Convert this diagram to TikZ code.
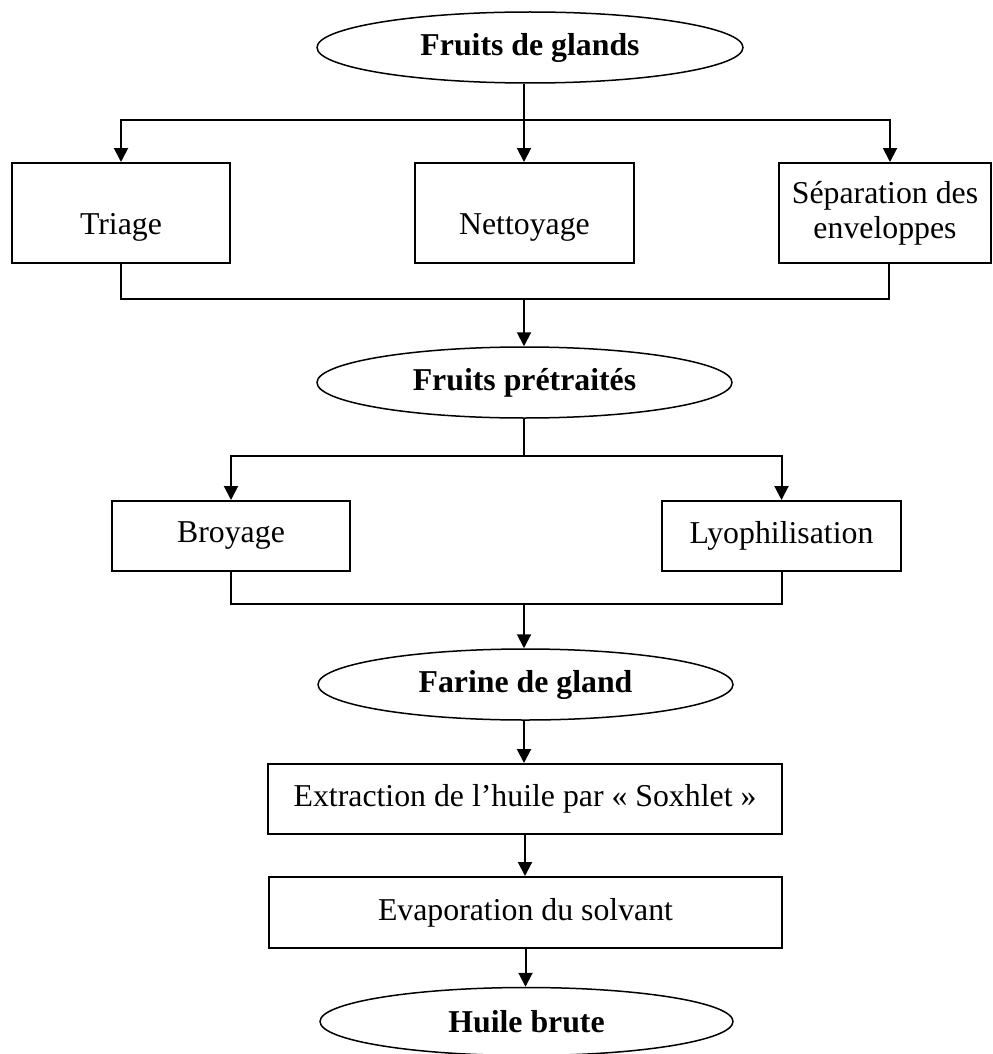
\documentclass[tikz,border=0pt]{standalone}
\usepackage{fontspec}
\setmainfont{Liberation Serif}
\usetikzlibrary{arrows.meta,shapes.geometric,calc}
\begin{document}
\begin{tikzpicture}[x=0.5pt,y=-0.5pt,
  font=\fontsize{15.9}{17.5}\selectfont,
  stepbox/.style={draw,line width=1pt,rectangle,inner sep=0pt,align=center},
  lowtext/.style={text height=24pt,text depth=3pt},
  oval/.style={draw,line width=0.75pt,ellipse,inner sep=0pt,font=\fontsize{15.9}{17.5}\selectfont\bfseries},
  link/.style={line width=1pt},
  arr/.style={line width=1pt,-{Triangle[width=7pt,length=7pt]}}]
\useasboundingbox (0,0) rectangle (992,1054);
% nodes
\node[oval,minimum width=213pt,minimum height=35.5pt] (e1) at (530,47.5) {Fruits de glands};
\node[stepbox,lowtext,minimum width=109pt,minimum height=50pt] (tri) at (121,213) {Triage};
\node[stepbox,lowtext,minimum width=109.5pt,minimum height=50pt] (nett) at (524.5,213) {Nettoyage};
\node[stepbox,minimum width=106pt,minimum height=50pt] (sep) at (885,213) {Séparation des\\enveloppes};
\node[oval,minimum width=207.5pt,minimum height=35.5pt] (e2) at (524.5,382.5) {Fruits prétraités};
\node[stepbox,minimum width=119pt,minimum height=35pt] (broy) at (231,536) {Broyage};
\node[stepbox,minimum width=119.5pt,minimum height=35pt] (lyo) at (781.5,536) {Lyophilisation};
\node[oval,minimum width=207.5pt,minimum height=35.5pt] (e3) at (525.5,684.5) {Farine de gland};
\node[stepbox,minimum width=257pt,minimum height=35pt] (ext) at (525,799) {Extraction de l’huile par « Soxhlet »};
\node[stepbox,minimum width=256.5pt,minimum height=35.5pt] (eva) at (525.5,912.5) {Evaporation du solvant};
\node[oval,minimum width=206.5pt,minimum height=34pt] (e4) at (526.5,1021.5) {Huile brute};
% junctions
\coordinate (j1) at (524,120);
\coordinate (j2) at (524,299);
\coordinate (j3) at (524,456);
\coordinate (j4) at (524,604);
\coordinate (sepin) at ($(sep.north)+(5,0)$);
\coordinate (sepout) at ($(sep.south)+(4,0)$);
% connectors
\draw[link] (e1.south -| j1) -- (j1);
\draw[arr] (j1) -| (tri.north);
\draw[arr] (j1) -- (nett.north -| j1);
\draw[arr] (j1) -| (sepin);
\draw[link] (tri.south) |- (j2) -| (sepout);
\draw[arr] (j2) -- (e2.north -| j2);
\draw[link] (e2.south -| j3) -- (j3);
\draw[arr] (j3) -| (broy.north);
\draw[arr] (j3) -| (lyo.north);
\draw[link] (broy.south) |- (j4) -| (lyo.south);
\draw[arr] (j4) -- (e3.north -| j4);
\draw[arr] (e3.south -| j4) -- (ext.north -| j4);
\draw[arr] (ext.south) -- (eva.north -| ext.south);
\draw[arr] (eva.south) -- (e4.north -| eva.south);
\end{tikzpicture}
\end{document}
